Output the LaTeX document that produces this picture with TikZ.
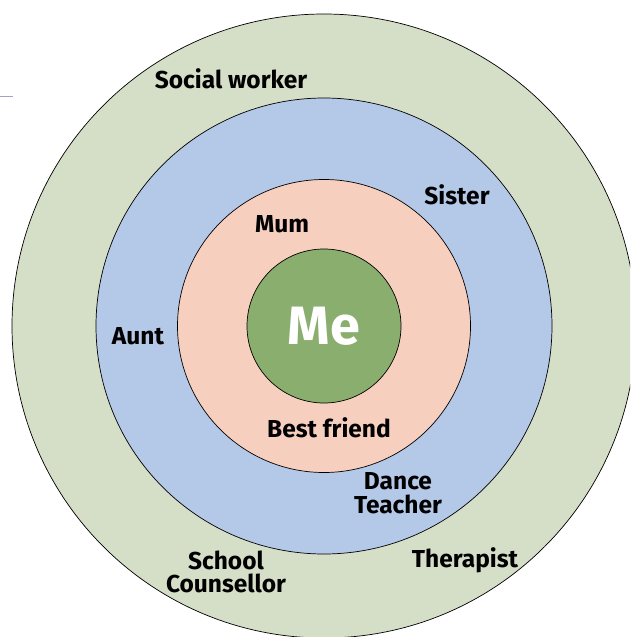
\documentclass[tikz,border=0pt]{standalone}
\usepackage{fontspec}
\setmainfont{Fira Sans}
\usepackage{tikz}
\usetikzlibrary{positioning}
\definecolor{outergreen}{HTML}{D5DEC6}
\definecolor{ringblue}{HTML}{B4C8E8}
\definecolor{ringpink}{HTML}{F7CFBF}
\definecolor{megreen}{HTML}{8AAE6E}
\definecolor{edgepurple}{HTML}{A79FC9}
\tikzset{
    ring/.style={circle,draw=black,line width=0.7pt,inner sep=0pt},
    person/.style={font=\fontsize{24.5}{23.5}\selectfont\bfseries,align=center,inner sep=0pt},
    centre/.style={ring,fill=megreen,text=white,font=\fontsize{54}{58}\selectfont\bfseries},
}

\begin{document}
\begin{tikzpicture}[x=1pt,y=-1pt]
        \useasboundingbox (0,0) rectangle (630,637);
        \clip (0,0) rectangle (630,637);
        \coordinate (o) at (324,326);
        % rings from the outside in
        \node[ring,fill=outergreen,minimum size=624] (outer) at (o) {};
        \node[ring,fill=ringblue,minimum size=456] (middle) at (o) {};
        \node[ring,fill=ringpink,minimum size=293] (inner) at (o) {};
        \node[centre,minimum size=154] (me) at (o) {Me};

        \node[person] (social) at (231,79) {Social worker};
        \node[person] (sister) at (457,195) {Sister};
        \node[person] (mum) at (282,224) {Mum};
        \node[person] (aunt) at (138,336) {Aunt};
        \node[person] (friend) at (329,428) {Best friend};
        \node[person] (dance) at (398,493) {Dance\\Teacher};
        \node[person] (school) at (226,572) {School\\Counsellor};
        \node[person] (therapist) at (465,560) {Therapist};

        \coordinate (s) at (0,96);
        \coordinate (t) at (13,96);
        \draw[edgepurple,line width=1pt] (s) -- (t);
\end{tikzpicture}
\end{document}
